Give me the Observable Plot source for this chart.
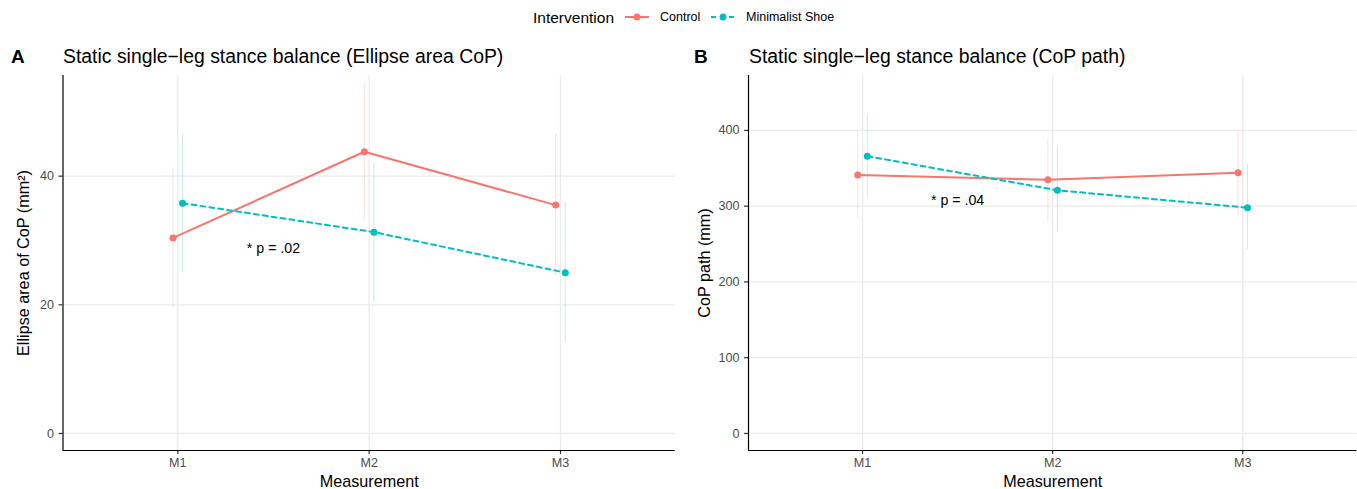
<!DOCTYPE html>
<html><head><meta charset="utf-8">
<script src="https://cdn.jsdelivr.net/npm/d3@7"></script>
<script src="https://cdn.jsdelivr.net/npm/@observablehq/plot@0.6"></script>
<style>
body{margin:0;background:#fff;font-family:"Liberation Sans",Arial,Helvetica,sans-serif;}
#root{position:relative;width:1357px;height:489px;overflow:hidden;background:#fff;}
.abs{position:absolute;white-space:nowrap;line-height:1;color:#000;}
.tag{font-weight:bold;font-size:19px;}
.title{font-size:19.4px;}
.legtitle{font-size:15.5px;}
.leglab{font-size:12.5px;}
</style></head><body><div id="root"></div>
<script>
// ---- data ----
const measurements = ["M1", "M2", "M3"];
const interventions = ["Control", "Minimalist Shoe"];
const interventionColors = ["#F8766D", "#00BFC4"];

// Panel A: ellipse area of CoP (mm²)
const ellipseControlMean = [30.4, 43.8, 35.5];
const ellipseControlLow  = [19.6, 33.1, 24.5];
const ellipseControlHigh = [41.2, 54.5, 46.5];
const ellipseShoeMean = [35.8, 31.3, 25.0];
const ellipseShoeLow  = [25.0, 20.3, 14.0];
const ellipseShoeHigh = [46.5, 42.2, 36.0];
const ellipseTicks = [0, 20, 40];

// Panel B: CoP path (mm)
const pathControlMean = [341, 335, 344];
const pathControlLow  = [284, 278, 287];
const pathControlHigh = [399, 390, 400];
const pathShoeMean = [366, 321, 298];
const pathShoeLow  = [311, 265, 243];
const pathShoeHigh = [421, 377, 355];
const pathTicks = [0, 100, 200, 300, 400];

// annotations
const noteLabels = ["* p = .02", "* p = .04"];
const noteX = [1.5, 1.5];
const noteY = [28.8, 308];

const panelTags = ["A", "B"];
const panelTitles = ["Static single\u2212leg stance balance (Ellipse area CoP)", "Static single\u2212leg stance balance (CoP path)"];
const yLabels = ["Ellipse area of CoP (mm\u00B2)", "CoP path (mm)"];
const xLabel = "Measurement";
const legendTitle = "Intervention";

// ---- build ----
const DODGE = 0.05;
function rowsFor(series) {
  const rows = [];
  series.forEach((s, gi) => {
    s.mean.forEach((m, j) => {
      rows.push({
        group: interventions[gi],
        x: j + 1 + (gi === 0 ? -DODGE / 2 : DODGE / 2),
        y: m, lo: s.low[j], hi: s.high[j]
      });
    });
  });
  return rows;
}

const FONT = '"Liberation Sans", Arial, Helvetica, sans-serif';
const root = document.getElementById("root");

function addText(cls, text, left, top) {
  const d = document.createElement("div");
  d.className = "abs " + cls;
  d.textContent = text;
  d.style.left = left + "px";
  d.style.top = top + "px";
  root.appendChild(d);
  return d;
}

function panel(cfg) {
  const xDomain = [0.4, 3.6];
  const plot = Plot.plot({
    width: cfg.width, height: 419,
    marginLeft: cfg.marginLeft, marginRight: cfg.marginRight, marginTop: 5, marginBottom: 39,
    style: {fontFamily: FONT, fontSize: "12.6px", color: "#4d4d4d", background: "transparent", overflow: "visible"},
    x: {domain: xDomain, label: null},
    y: {domain: cfg.yDomain, label: null},
    color: {domain: interventions, range: interventionColors},
    marks: [
      Plot.gridX({ticks: [1, 2, 3], stroke: "#ebebeb", strokeOpacity: 1, strokeWidth: 1.3}),
      Plot.gridY({ticks: cfg.yTicks, stroke: "#ebebeb", strokeOpacity: 1, strokeWidth: 1.3}),
      Plot.ruleX(cfg.rows, {x: "x", y1: "lo", y2: "hi", stroke: "group", strokeOpacity: 0.22, strokeWidth: 1.1}),
      Plot.line(cfg.rows.filter(d => d.group === interventions[0]), {x: "x", y: "y", stroke: "group", strokeWidth: 2}),
      Plot.line(cfg.rows.filter(d => d.group === interventions[1]), {x: "x", y: "y", stroke: "group", strokeWidth: 2, strokeDasharray: "5,4"}),
      Plot.dot(cfg.rows, {x: "x", y: "y", fill: "group", r: 3.5}),
      Plot.text([cfg.note], {x: "x", y: "y", text: "text", fontSize: 14.2, fill: "#000"}),
      Plot.axisX({ticks: [1, 2, 3], tickFormat: d => measurements[d - 1], tickSize: 4, tickPadding: 4, label: null, stroke: "#333", strokeWidth: 1.2, fill: "#4d4d4d"}),
      Plot.axisY({ticks: cfg.yTicks, tickSize: 4, tickPadding: 5, label: null, stroke: "#333", strokeWidth: 1.2, fill: "#4d4d4d"}),
      Plot.text([xLabel], {frameAnchor: "bottom", lineAnchor: "middle", textAnchor: "middle", dy: 31, fontSize: 16.2, fill: "#000"}),
      Plot.text([cfg.yLabel], {frameAnchor: "left", textAnchor: "middle", lineAnchor: "middle", rotate: -90, dx: cfg.yLabelDx, fontSize: 16.2, fill: "#000"}),
      Plot.ruleX([xDomain[0]], {stroke: "#000", strokeWidth: 1.2}),
      Plot.ruleY([cfg.yDomain[0]], {stroke: "#000", strokeWidth: 1.2})
    ]
  });
  plot.style.position = "absolute";
  plot.style.left = cfg.left + "px";
  plot.style.top = "70px";
  root.appendChild(plot);
}

panel({
  left: 0, width: 678, marginLeft: 62.5, marginRight: 3.2,
  yDomain: [-2.65, 55.65], yTicks: ellipseTicks,
  rows: rowsFor([
    {mean: ellipseControlMean, low: ellipseControlLow, high: ellipseControlHigh},
    {mean: ellipseShoeMean, low: ellipseShoeLow, high: ellipseShoeHigh}
  ]),
  note: {x: noteX[0], y: noteY[0], text: noteLabels[0]},
  yLabel: yLabels[0], yLabelDx: -39.5
});
panel({
  left: 678, width: 679, marginLeft: 70, marginRight: 0.7,
  yDomain: [-22.5, 472.5], yTicks: pathTicks,
  rows: rowsFor([
    {mean: pathControlMean, low: pathControlLow, high: pathControlHigh},
    {mean: pathShoeMean, low: pathShoeLow, high: pathShoeHigh}
  ]),
  note: {x: noteX[1], y: noteY[1], text: noteLabels[1]},
  yLabel: yLabels[1], yLabelDx: -44
});

// titles
addText("tag", panelTags[0], 11, 47);
addText("title", panelTitles[0], 63, 46.5);
addText("tag", panelTags[1], 694, 47);
addText("title", panelTitles[1], 749, 46.5);

// legend
addText("legtitle", legendTitle, 533, 9.5);
function legendKey(left, color, dashed) {
  const ns = "http://www.w3.org/2000/svg";
  const svg = document.createElementNS(ns, "svg");
  svg.setAttribute("width", 26); svg.setAttribute("height", 12);
  svg.style.position = "absolute"; svg.style.left = left + "px"; svg.style.top = "11px";
  const l = document.createElementNS(ns, "line");
  l.setAttribute("x1", 1); l.setAttribute("x2", 25); l.setAttribute("y1", 6); l.setAttribute("y2", 6);
  l.setAttribute("stroke", color); l.setAttribute("stroke-width", 2);
  if (dashed) l.setAttribute("stroke-dasharray", "5,4");
  const c = document.createElementNS(ns, "circle");
  c.setAttribute("cx", 13); c.setAttribute("cy", 6); c.setAttribute("r", 3.5); c.setAttribute("fill", color);
  svg.appendChild(l); svg.appendChild(c);
  root.appendChild(svg);
}
legendKey(624, interventionColors[0], false);
addText("leglab", interventions[0], 660, 11);
legendKey(710, interventionColors[1], true);
addText("leglab", interventions[1], 746, 11);
</script></body></html>
